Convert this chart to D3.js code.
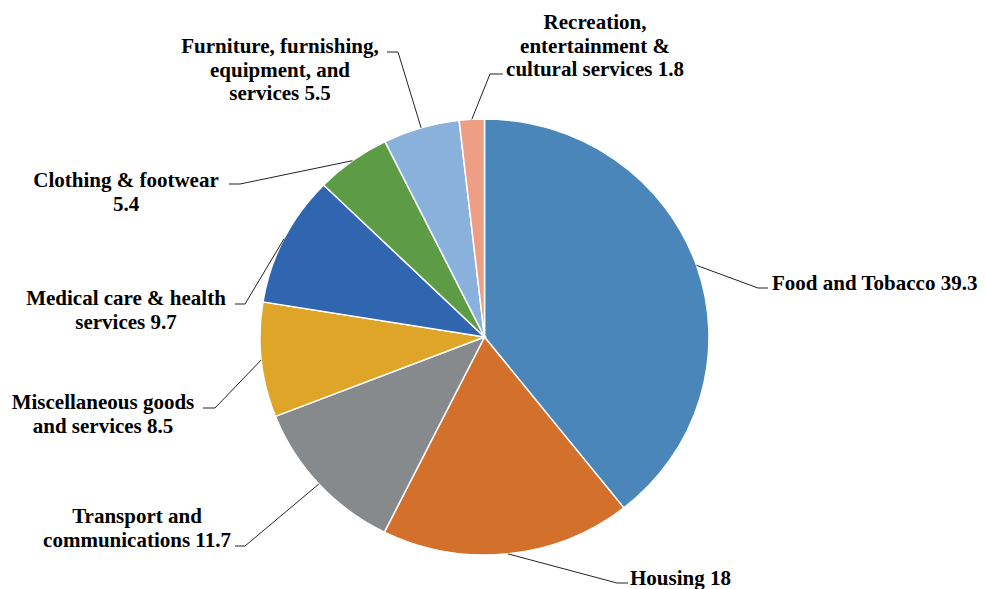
<!DOCTYPE html>
<html><head><meta charset="utf-8">
<script src="https://cdn.jsdelivr.net/npm/d3@7"></script>
<style>html,body{margin:0;padding:0;background:#fff;}svg{display:block;}
.lbl{font-family:"Liberation Serif","Times New Roman",Tinos,serif;font-weight:bold;font-size:21px;fill:#000;}
</style>
</head><body><svg id="c" width="986" height="589"></svg>
<script>
// ---- data ----
const categories = ["Food and Tobacco","Housing","Transport and communications","Miscellaneous goods and services","Medical care & health services","Clothing & footwear","Furniture, furnishing, equipment, and services","Recreation, entertainment & cultural services"];
const values = [39.3, 18, 11.7, 8.5, 9.7, 5.4, 5.5, 1.8];
const labelLines = [
  ["Food and Tobacco 39.3"],
  ["Housing 18"],
  ["Transport and","communications 11.7"],
  ["Miscellaneous goods","and services 8.5"],
  ["Medical care & health","services 9.7"],
  ["Clothing & footwear","5.4"],
  ["Furniture, furnishing,","equipment, and","services 5.5"],
  ["Recreation,","entertainment &","cultural services 1.8"]
];
const colors = ["#4A86BA","#D2702C","#878A8C","#DEA528","#3066B0","#5E9B45","#8AB0DC","#EE9E84"];

// ---- layout (label placement) ----
const cx = 484.5, cy = 337, rx = 224.5, ry = 218;
const labelLayout = [
  {elbow:[758,288], end:768, tx:772, ty:290, anchor:"start"},
  {elbow:[617,583], end:628, tx:630, ty:585, anchor:"start"},
  {elbow:[245,546], end:235, tx:137, ty:523, anchor:"middle"},
  {elbow:[215,408], end:203, tx:103, ty:409, anchor:"middle"},
  {elbow:[245,304], end:235, tx:126, ty:305, anchor:"middle"},
  {elbow:[240,184], end:229, tx:126, ty:187, anchor:"middle"},
  {elbow:[398,52],  end:387, tx:280, ty:53,  anchor:"middle"},
  {elbow:[490,74],  end:503, tx:595, ty:29,  anchor:"middle"}
];

const svg = d3.select("#c");
const pie = d3.pie().sort(null).value(d => d)(values);
const arc = d3.arc().innerRadius(0).outerRadius(rx);
const edge = d3.arc().innerRadius(rx).outerRadius(rx);

const g = svg.append("g").attr("transform", `translate(${cx},${cy}) scale(1,${ry/rx})`);
g.selectAll("path").data(pie).join("path")
  .attr("d", arc)
  .attr("fill", (d,i) => colors[i])
  .attr("stroke", "#fff")
  .attr("stroke-width", 1.5);

const lines = svg.append("g");
pie.forEach((d,i) => {
  const c = edge.centroid(d);
  const p0 = [cx + c[0], cy + c[1]*ry/rx];
  const L = labelLayout[i];
  lines.append("polyline")
    .attr("points", [p0, L.elbow, [L.end, L.elbow[1]]].map(p => p.join(",")).join(" "))
    .attr("fill","none").attr("stroke","#222").attr("stroke-width",1);
  const t = svg.append("text")
    .attr("class","lbl")
    .attr("x", L.tx).attr("y", L.ty)
    .attr("text-anchor", L.anchor);
  labelLines[i].forEach((s,j) => {
    t.append("tspan").attr("x", L.tx).attr("dy", j === 0 ? 0 : 23.5).text(s);
  });
});
</script></body></html>
